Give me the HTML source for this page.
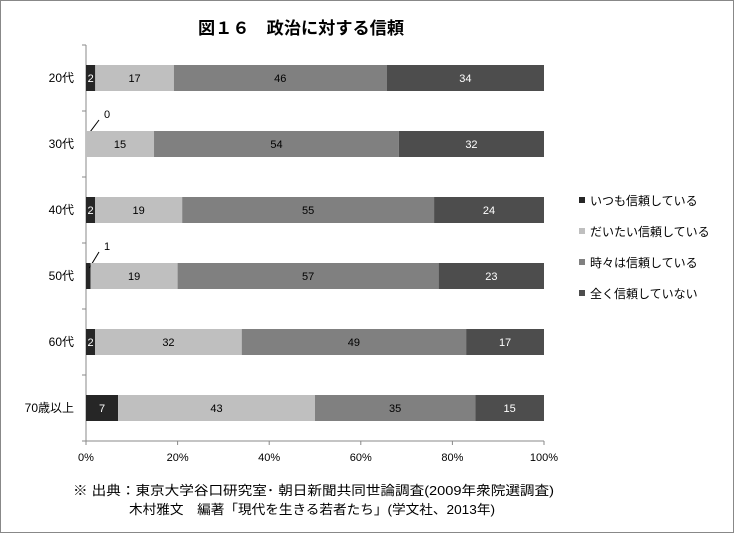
<!DOCTYPE html>
<html><head><meta charset="utf-8"><style>
body{margin:0;background:#fff;}
#wrap{position:relative;width:732px;height:531px;border:1px solid #888;background:#fff;font-family:"Liberation Sans","Noto Sans CJK JP",sans-serif;}
svg text{font-family:"Liberation Sans","Noto Sans CJK JP",sans-serif;}
</style></head><body>
<div id="wrap">
<svg id="chart" width="732" height="531">
<text x="197" y="33" font-size="17" font-weight="bold" textLength="206" lengthAdjust="spacingAndGlyphs">図１６　政治に対する信頼</text>
<g id="plot"></g>
<text x="72" y="494" font-size="13" textLength="481" lengthAdjust="spacingAndGlyphs">※ 出典：東京大学谷口研究室･ 朝日新聞共同世論調査(2009年衆院選調査)</text>
<text x="128" y="513" font-size="13" textLength="366" lengthAdjust="spacingAndGlyphs">木村雅文　編著「現代を生きる若者たち」(学文社、2013年)</text>
</svg>
</div>
<script>
const categories=["20代","30代","40代","50代","60代","70歳以上"];
const always=[2,0,2,1,2,7];
const mostly=[17,15,19,19,32,43];
const sometimes=[46,54,55,57,49,35];
const never=[34,32,24,23,17,15];
const seriesNames=["いつも信頼している","だいたい信頼している","時々は信頼している","全く信頼していない"];
const ticks=[0,20,40,60,80,100];
const series=[always,mostly,sometimes,never];
const colors=["#262626","#bfbfbf","#808080","#4d4d4d"];
const textColors=["#fff","#000","#000","#fff"];
const NS="http://www.w3.org/2000/svg";
const g=document.getElementById("plot");
const X0=85,X1=543,Y0=44,ROW=66;
function x(p){return X0+(X1-X0)*p/100;}
function yc(i){return Y0+ROW*i+ROW/2;}
function mk(t,a){const e=document.createElementNS(NS,t);for(const k in a)e.setAttribute(k,a[k]);g.appendChild(e);return e;}
let e=mk("line",{x1:X0,y1:Y0,x2:X0,y2:Y0+ROW*categories.length,stroke:"#888"});


e=mk("line",{x1:X0,y1:Y0+ROW*categories.length,x2:X1,y2:Y0+ROW*categories.length,stroke:"#888"});


for(let i=0;i<=categories.length;i++){mk("line",{x1:X0-4,x2:X0,y1:Y0+ROW*i,y2:Y0+ROW*i,stroke:"#888"});}
ticks.forEach(t=>{
 mk("line",{x1:x(t),x2:x(t),y1:Y0+ROW*categories.length,y2:Y0+ROW*categories.length+4,stroke:"#888"});
 const tx=mk("text",{x:x(t),y:460,"font-size":11,"text-anchor":"middle"});tx.textContent=t+"%";
 
 
});
categories.forEach((c,i)=>{
 const cy=yc(i);
 const lb=mk("text",{x:X0-12,y:cy+4,"font-size":12,"text-anchor":"end"});lb.textContent=c;
 
 
 const tot=series.reduce((s,a)=>s+a[i],0);
 let acc=0;
 series.forEach((a,k)=>{
  const v=a[i];const p0=acc/tot*100;acc+=v;const p1=acc/tot*100;
  const r=mk("rect",{x:x(p0),y:cy-13,width:Math.max(0,x(p1)-x(p0)),height:26,fill:colors[k]});
  
  
  let t;
  if(v<=1){
   const mx=(x(p0)+x(p1))/2;
   mk("line",{x1:mx+1,y1:cy-8,x2:x(p0)+13,y2:cy-24,stroke:"#000"});
   t=mk("text",{x:x(p0)+21,y:cy-26,"font-size":11,"text-anchor":"middle",fill:"#000"});
  } else {
   t=mk("text",{x:(x(p0)+x(p1))/2,y:cy+4,"font-size":11,"text-anchor":"middle",fill:textColors[k]});
  }
  t.textContent=v;
  
  
 });
});
seriesNames.forEach((n,k)=>{
 const ly=200+31*k;
 const s=mk("rect",{x:578,y:ly-4,width:6,height:6,fill:colors[k]});
 
 
 const t=mk("text",{x:589,y:ly+4,"font-size":12});t.textContent=n;
 
 
});
</script>
</body></html>
